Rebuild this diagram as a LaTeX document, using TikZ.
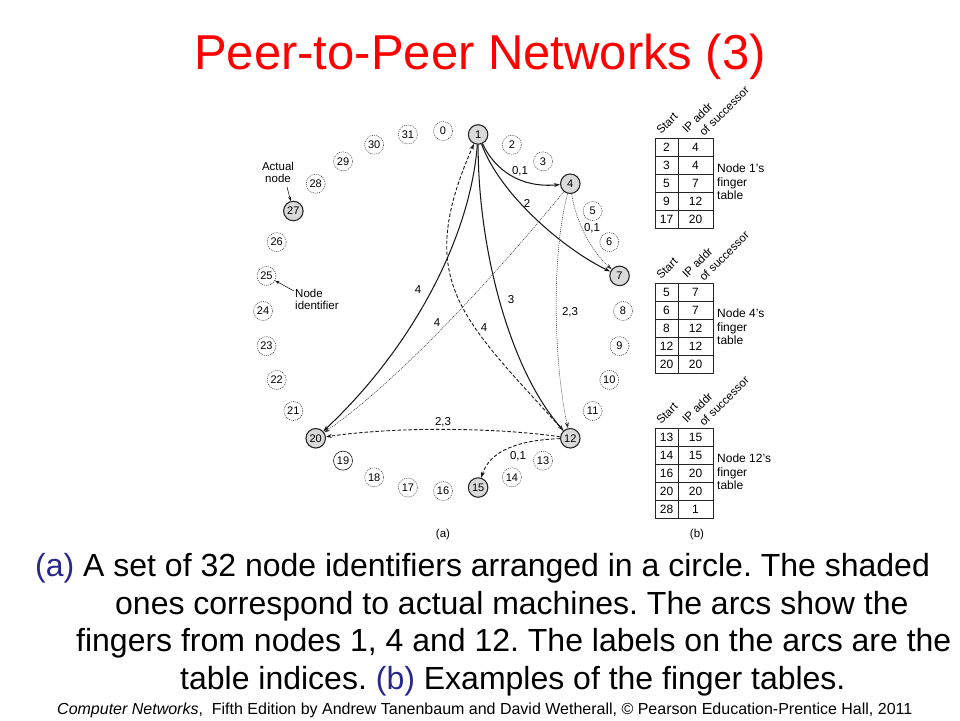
\documentclass[tikz,border=0pt]{standalone}
\usepackage{fontspec}
\setmainfont{Liberation Sans}
\usetikzlibrary{arrows.meta}
\definecolor{titlered}{RGB}{255,0,0}
\definecolor{capblue}{RGB}{40,40,140}
\definecolor{shade}{RGB}{218,218,218}
\frenchspacing
\begin{document}
\begin{tikzpicture}[x=1pt,y=-1pt,
  realn/.style={circle,draw=black!85,line width=1.1pt,fill=shade,minimum size=19.5pt,inner sep=0pt,font=\fontsize{11}{11}\selectfont},
  idn/.style={circle,draw=black!75,dash pattern=on 1pt off 1pt,line width=0.55pt,minimum size=19pt,inner sep=0pt,font=\fontsize{11}{11}\selectfont},
  soln/.style={circle,draw=black!85,line width=0.65pt,minimum size=19pt,inner sep=0pt,font=\fontsize{11}{11}\selectfont},
  arrtip/.style={-{Stealth[length=6pt,width=4pt]}},
  solidarr/.style={arrtip,line width=1.05pt,draw=black!90},
  dasharr/.style={arrtip,line width=0.9pt,dash pattern=on 3.5pt off 2pt,draw=black!90},
  dotarr/.style={arrtip,line width=0.55pt,dash pattern=on 1pt off 1pt,draw=black!80},
  lbl/.style={inner sep=0pt,font=\fontsize{11.5}{11.5}\selectfont},
  celltxt/.style={inner sep=0pt,font=\fontsize{12}{12}\selectfont},
  hdrtxt/.style={inner sep=0pt,font=\fontsize{11.5}{11.5}\selectfont},
  tbl/.style={line width=0.8pt,draw=black!85},
  captxt/.style={inner sep=0pt,font=\fontsize{32}{32}\selectfont}]
\useasboundingbox[fill=white] (0,0) rectangle (960,720);

% title
\node[anchor=base,inner sep=0pt,text=titlered,font=\fontsize{49}{49}\selectfont] (title) at (480,69) {Peer-to-Peer Networks (3)};

% ring of identifiers
\foreach \k/\s in {0/idn,1/realn,2/idn,3/idn,4/realn,5/idn,6/idn,7/realn,8/idn,9/idn,10/idn,11/idn,12/realn,13/idn,14/idn,15/realn,16/idn,17/idn,18/idn,19/soln,20/realn,21/idn,22/idn,23/idn,24/idn,25/idn,26/idn,27/realn,28/idn,29/idn,30/idn,31/idn}
  \node[\s] (n\k) at ({443+180*cos(90-11.25*\k)},{311-180*sin(90-11.25*\k)}) {\k};

% fingers of node 1
\draw[solidarr] (n1) .. controls (495,170) and (520,188) .. (n4);
\draw[solidarr] (n1) .. controls (500,195) and (565,250) .. (n7);
\draw[solidarr] (n1) .. controls (478,250) and (510,370) .. (n12);
\draw[solidarr] (n1) .. controls (470,240) and (410,350) .. (n20);
% fingers of node 4
\draw[dotarr] (n4) .. controls (576,225) and (595,255) .. (n7);
\draw[dotarr] (n4) .. controls (550,260) and (555,370) .. (n12);
\draw[dotarr] (n4) .. controls (500,270) and (400,380) .. (n20);
% fingers of node 12
\draw[dasharr] (n12) .. controls (462,318) and (413,282) .. (n1);
\draw[dasharr] (n12) .. controls (500,428) and (400,426) .. (n20);
\draw[dasharr] (n12) .. controls (520,440) and (490,450) .. (n15);

% arc labels
\node[lbl] (l14) at (520,171) {0,1};
\node[lbl] (l17) at (527,203) {2};
\node[lbl] (l112) at (511,300) {3};
\node[lbl] (l120) at (418,290) {4};
\node[lbl] (l47) at (592,228) {0,1};
\node[lbl] (l412) at (570,312) {2,3};
\node[lbl] (l420) at (437,323) {4};
\node[lbl] (l121) at (484,328) {4};
\node[lbl] (l1220) at (443,422) {2,3};
\node[lbl] (l1215) at (518,456) {0,1};

% annotations
\node[lbl,align=center] (actual) at (278,172) {Actual\\[0.5pt]node};
\coordinate (actualtip) at (287,187);
\draw[line width=0.5pt,-{Stealth[length=4.5pt,width=3pt]}] (actualtip) -- (n27);
\node[lbl,align=left,anchor=west] (ident) at (295,299) {Node\\[0.5pt]identifier};
\coordinate (identtip) at (294,291);
\draw[line width=0.5pt,-{Stealth[length=4.5pt,width=3pt]}] (identtip) -- (n25);

\node[lbl] (suba) at (443,535) {(a)};
\node[lbl] (subb) at (697,535) {(b)};

% finger tables
\foreach \dy/\nm/\rows in {0/1/{2/4,3/4,5/7,9/12,17/20},145/4/{5/7,6/7,8/12,12/12,20/20},290/12/{13/15,14/15,16/20,20/20,28/1}} {
  \begin{scope}[yshift=-\dy pt]
    \draw[tbl] (655,138) rectangle (713,228);
    \draw[tbl] (678,138) -- (678,228);
    \foreach \j in {1,...,4} \draw[tbl] (655,138+18*\j) -- (713,138+18*\j);
    \foreach \a/\b [count=\i] in \rows {
      \node[celltxt] (t\nm a\i) at (666.5,129.5+18*\i) {\a};
      \node[celltxt] (t\nm b\i) at (695.5,129.5+18*\i) {\b};
    }
    \node[hdrtxt,rotate=45,anchor=base west] (t\nm h1) at (661,135) {Start};
    \node[hdrtxt,rotate=45,anchor=base west] (t\nm h2) at (687,134) {IP addr};
    \node[hdrtxt,rotate=45,anchor=base west] (t\nm h3) at (704,137) {of successor};
    \node[celltxt,anchor=west,align=left] (t\nm c) at (717,182) {Node \nm's\\[1.5pt]finger\\[1.5pt]table};
  \end{scope}
}

% caption
\node[captxt,anchor=base west] (c1) at (35,576.5) {\textcolor{capblue}{(a)} A set of 32 node identifiers arranged in a circle. The shaded};
\node[captxt,anchor=base west] (c2) at (115,614) {ones correspond to actual machines. The arcs show the};
\node[captxt,anchor=base west] (c3) at (76,651.5) {fingers from nodes 1, 4 and 12. The labels on the arcs are the};
\node[captxt,anchor=base west] (c4) at (180,689) {table indices. \textcolor{capblue}{(b)} Examples of the finger tables.};

% footer
\node[anchor=base west,inner sep=0pt,font=\fontsize{16}{16}\selectfont] (foot) at (57,714.5) {\textit{Computer Networks},\ \ Fifth Edition by Andrew Tanenbaum and David Wetherall, \textcopyright{} Pearson Education-Prentice Hall, 2011};
\end{tikzpicture}
\end{document}
